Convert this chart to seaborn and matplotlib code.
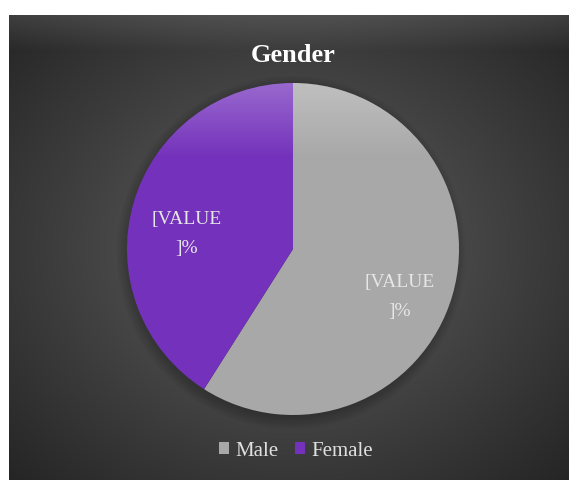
import numpy as np
import matplotlib
matplotlib.use("Agg")
import matplotlib.pyplot as plt
import seaborn as sns

# chart data
genders = ["Male", "Female"]
shares = [59, 41]
slice_colors = ["#a8a8a8", "#7432bc"]
value_label = "[VALUE\n]%"
chart_title = "Gender"


def main():
    sns.set_style("white")
    plt.rcParams["font.family"] = ["Liberation Serif", "DejaVu Serif"]

    fig = plt.figure(figsize=(5.69, 4.8), dpi=100)
    fig.patch.set_facecolor("white")

    # dark framed background with radial gradient
    bg = fig.add_axes([9 / 569, 0, 1 - 9 / 569, 1 - 15 / 480])
    h, w = 465, 560
    yy, xx = np.mgrid[0:h, 0:w]
    r = np.sqrt(((xx - w * 0.5) / (w * 0.6)) ** 2 + ((yy - h * 0.5) / (h * 0.6)) ** 2)
    val = 0.38 - 0.2 * np.clip(r, 0, 1.2)
    top = np.clip(1 - yy / 35.0, 0, 1) * 0.1
    val = val + top
    img = np.dstack([val, val, val])
    bg.imshow(img, extent=[0, 1, 0, 1], aspect="auto", origin="upper")
    bg.set_axis_off()

    # soft shadow under the pie
    sh = fig.add_axes([0.2232 - 0.03, 0.1354 - 0.04, 0.5835 + 0.06, 0.6917 + 0.08])
    sh.set_axis_off()
    for k in range(12):
        rad = 1.0 - k * 0.012
        sh.add_patch(plt.Circle((-0.01, -0.02), rad, color="black", alpha=0.035, lw=0))
    sh.set_xlim(-1.05, 1.05)
    sh.set_ylim(-1.05, 1.05)

    ax = fig.add_axes([0.2232, 0.1354, 0.5835, 0.6917])
    wedges, _ = ax.pie(
        shares,
        colors=slice_colors,
        startangle=90,
        counterclock=False,
        radius=1.0,
        wedgeprops={"linewidth": 0},
    )

    # subtle glossy highlight near the top rim of each slice
    gy = np.linspace(1, -1, 200)[:, None] * np.ones((1, 200))
    for wdg in wedges:
        hl = np.zeros((200, 200, 4))
        hl[..., :3] = 1.0
        hl[..., 3] = np.clip((gy - 0.55) * 0.6, 0, 0.3)
        im = ax.imshow(hl, extent=[-1, 1, -1, 1], zorder=3)
        im.set_clip_path(wdg)

    label_pos = [(0.645, -0.29), (-0.64, 0.09)]
    for (lx, ly) in label_pos:
        ax.text(lx, ly, value_label, ha="center", va="center", fontsize=14,
                color="#e6e6e6", linespacing=1.95, zorder=5)

    ax.set_xlim(-1, 1)
    ax.set_ylim(-1, 1)
    ax.set_aspect("auto")

    fig.text(0.515, 1 - 55 / 480, chart_title, ha="center", va="center",
             fontsize=19, fontweight="bold", color="white")

    leg = fig.legend(wedges, genders, loc="center", bbox_to_anchor=(0.52, 1 - 451 / 480),
                     ncol=2, frameon=False, fontsize=15, handlelength=0.5,
                     handleheight=0.5, handletextpad=0.3, columnspacing=0.8)
    for t in leg.get_texts():
        t.set_color("#e0e0e0")

    fig.savefig("out.png", dpi=100, facecolor=fig.get_facecolor())


if __name__ == "__main__":
    main()
